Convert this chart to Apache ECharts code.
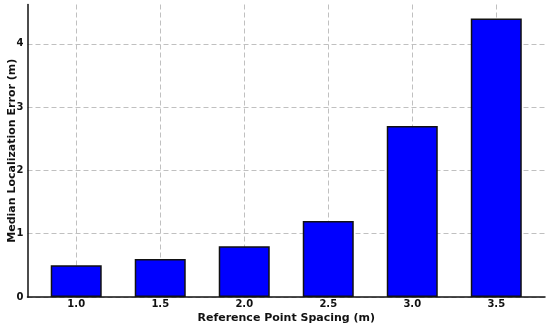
<!DOCTYPE html>
<html><head><meta charset="utf-8">
<script src="https://cdn.jsdelivr.net/npm/echarts@6/dist/echarts.min.js"></script>
<style>html,body{margin:0;padding:0;background:#fff}#c{width:550px;height:325px}</style>
</head><body><div id="c"></div>
<script>
const categories = ['1.0', '1.5', '2.0', '2.5', '3.0', '3.5'];
const medianError = [0.5, 0.6, 0.8, 1.2, 2.7, 4.4];
const yTicks = [0, 1, 2, 3, 4];

const chart = echarts.init(document.getElementById('c'), null, {renderer: 'canvas'});
const idx = categories.map((_, i) => i);
const font = 'DejaVu Sans';
chart.setOption({
  animation: false,
  grid: {left: 27.5, right: 5, top: 4.5, bottom: 28, outerBoundsMode: 'none', containLabel: false},
  xAxis: {
    type: 'value', min: -0.58, max: 5.58,
    name: 'Reference Point Spacing (m)', nameLocation: 'middle', nameGap: 16, nameMoveOverlap: false,
    nameTextStyle: {fontFamily: font, fontWeight: 'bold', fontSize: 11, color: '#111'},
    axisLine: {show: true, onZero: false, lineStyle: {color: '#111', width: 1.5}},
    axisTick: {show: false, customValues: idx},
    axisLabel: {customValues: idx, formatter: v => categories[Math.round(v)], fontFamily: font, fontWeight: 'bold', fontSize: 10, color: '#111', margin: 2},
    splitLine: {show: true, lineStyle: {color: '#c0c0c0', type: [5, 3], width: 1}}
  },
  yAxis: {
    type: 'value', min: 0, max: 4.62,
    name: 'Median Localization Error (m)', nameLocation: 'middle', nameGap: 10, nameMoveOverlap: false,
    nameTextStyle: {fontFamily: font, fontWeight: 'bold', fontSize: 11, color: '#111'},
    axisLine: {show: true, onZero: false, lineStyle: {color: '#111', width: 1.5}},
    axisTick: {show: false, customValues: yTicks},
    axisLabel: {customValues: yTicks, fontFamily: font, fontWeight: 'bold', fontSize: 10, color: '#111', margin: 4},
    splitLine: {show: true, lineStyle: {color: '#c0c0c0', type: [5, 3], width: 1}}
  },
  series: [{
    type: 'bar',
    data: medianError.map((v, i) => [i, v]),
    barWidth: 51,
    itemStyle: {color: '#0000ff', borderColor: '#111', borderWidth: 1.5},
    z: 3
  }]
});
</script></body></html>
